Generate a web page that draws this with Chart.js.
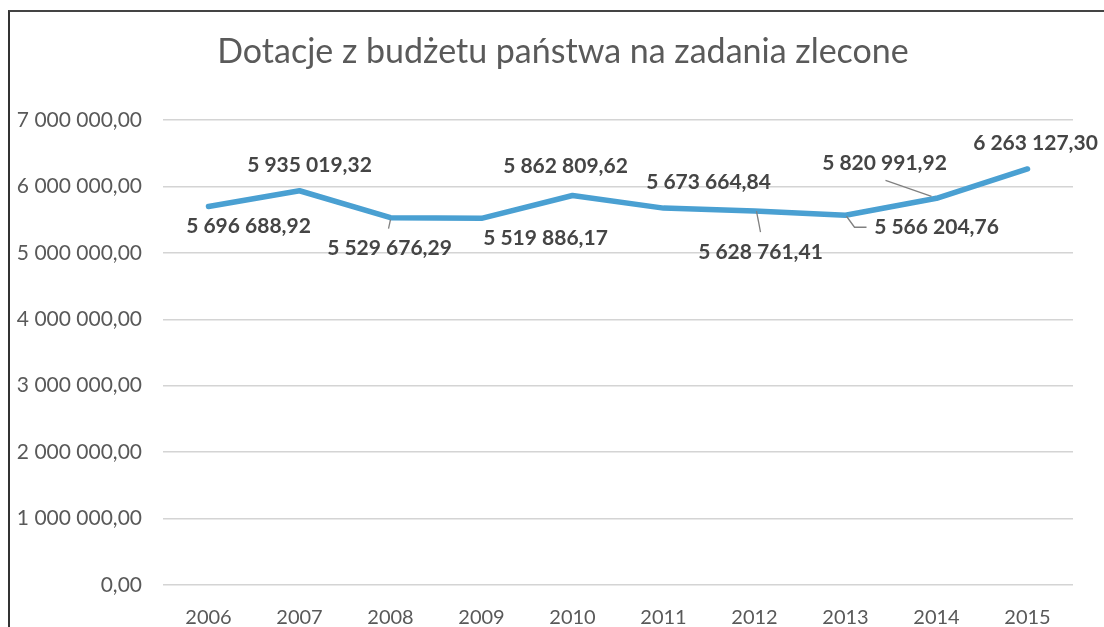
<!DOCTYPE html>
<html>
<head>
<meta charset="utf-8">
<script src="https://cdn.jsdelivr.net/npm/chart.js@4/dist/chart.umd.min.js"></script>
<style>
html,body{margin:0;padding:0;background:#fff;}
#wrap{position:relative;width:1104px;height:627px;overflow:hidden;}
#frame{position:absolute;left:8px;top:10px;width:1100px;height:640px;border-left:2px solid #333;border-top:2px solid #444;box-sizing:border-box;pointer-events:none;}
canvas{position:absolute;left:0;top:0;}
</style>
</head>
<body>
<div id="wrap">
<canvas id="c" width="1104" height="627"></canvas>
<div id="frame"></div>
</div>
<script>
const title = 'Dotacje z budżetu państwa na zadania zlecone';
const years = ['2006','2007','2008','2009','2010','2011','2012','2013','2014','2015'];
const values = [5696688.92, 5935019.32, 5529676.29, 5519886.17, 5862809.62, 5673664.84, 5628761.41, 5566204.76, 5820991.92, 6263127.30];
const yTicks = [0, 1000000, 2000000, 3000000, 4000000, 5000000, 6000000, 7000000];

// label placement (pixel offsets of label centre from its point) and leader lines
const labelOffsets = [[40,20],[10,-26],[-1,31],[64,20],[-7,-29],[45,-26],[6,41],[91,12],[-52,-35],[8,-26]];
const leaders = {2:[[0,2],[-2,11]], 6:[[2,0],[6,21]], 7:[[1,1],[9,12],[21,12]], 8:[[-5,-2],[-51,-18]]};

const FONT = 'Lato, "Open Sans", sans-serif';

function plFormat(v){
  const parts = v.toFixed(2).split('.');
  const intp = parts[0].replace(/\B(?=(\d{3})+(?!\d))/g, ' ');
  return intp + ',' + parts[1];
}

const labelPlugin = {
  id:'dlabels',
  afterDatasetsDraw(chart){
    const ctx = chart.ctx;
    const meta = chart.getDatasetMeta(0);
    ctx.save();
    // title
    ctx.font = '34px ' + FONT;
    ctx.fillStyle = '#5a5a5a';
    ctx.textAlign = 'center';
    ctx.textBaseline = 'alphabetic';
    ctx.fillText(title, 563, 63);
    meta.data.forEach((pt,i)=>{
      const x = pt.x, y = pt.y;
      if (leaders[i]) {
        ctx.strokeStyle = '#808080';
        ctx.lineWidth = 1.3;
        ctx.beginPath();
        leaders[i].forEach((p,k)=>{ if(k===0) ctx.moveTo(x+p[0], y+p[1]); else ctx.lineTo(x+p[0], y+p[1]); });
        ctx.stroke();
      }
      ctx.font = 'bold 21px ' + FONT;
      ctx.fillStyle = '#454545';
      ctx.textAlign = 'center';
      ctx.textBaseline = 'middle';
      ctx.fillText(plFormat(values[i]), x + labelOffsets[i][0], y + labelOffsets[i][1]);
    });
    ctx.restore();
  }
};

new Chart(document.getElementById('c'), {
  type:'line',
  data:{
    labels: years,
    datasets:[{
      data: values,
      borderColor:'#4aa0d2',
      borderWidth:5.5,
      pointRadius:0,
      tension:0,
      fill:false,
      borderCapStyle:'round',
      borderJoinStyle:'round'
    }]
  },
  options:{
    responsive:false,
    animation:false,
    devicePixelRatio:1,
    layout:{padding:{left:0,right:31,top:120,bottom:0}},
    plugins:{
      legend:{display:false},
      tooltip:{enabled:false},
      title:{display:false}
    },
    scales:{
      x:{
        offset:true,
        grid:{display:false, drawTicks:false},
        border:{display:false},
        ticks:{color:'#595959', font:{family:FONT, size:20}, padding:21},
        afterFit(s){ s.height = 42; }
      },
      y:{
        min:0, max:7000000,
        afterBuildTicks(s){ s.ticks = yTicks.map(v=>({value:v})); },
        grid:{color:'#d4d4d4', lineWidth:1.5, drawTicks:false},
        border:{display:false},
        ticks:{color:'#595959', font:{family:FONT, size:21}, padding:21,
          callback:(v)=>plFormat(v)},
        afterFit(s){ s.width = 163; }
      }
    }
  },
  plugins:[labelPlugin]
});
</script>
</body>
</html>
